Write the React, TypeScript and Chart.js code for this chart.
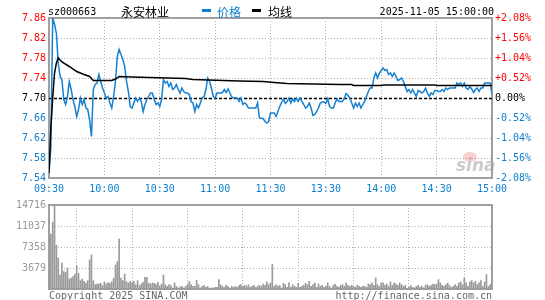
import React, { useEffect, useRef } from 'react';
import { Chart, registerables } from 'chart.js';

Chart.register(...registerables);

// ---------- data ----------
const stockCode = 'sz000663';
const stockName = '永安林业';
const legendPrice = '价格';
const legendAvg = '均线';
const stampText = '2025-11-05 15:00:00';
const copyrightText = 'Copyright 2025 SINA.COM';
const urlText = 'http://finance.sina.com.cn';

const prevClose = 7.7;
const priceTicks = [7.54, 7.58, 7.62, 7.66, 7.7, 7.74, 7.78, 7.82, 7.86];
const pctTicks = [-2.08, -1.56, -1.04, -0.52, 0, 0.52, 1.04, 1.56, 2.08];
const timeTickMinutes = [0, 30, 60, 90, 120, 150, 180, 210, 240];
const timeLabels = ['09:30', '10:00', '10:30', '11:00', '11:30', '13:30', '14:00', '14:30', '15:00'];
const volTicks = [3679, 7358, 11037, 14716];

// minute prices 09:30 - 11:30
const priceAM = [
  7.55, 7.6, 7.86, 7.847, 7.83, 7.77, 7.743, 7.737, 7.697, 7.687,
  7.703, 7.733, 7.717, 7.697, 7.683, 7.663, 7.677, 7.7, 7.687, 7.697,
  7.68, 7.677, 7.657, 7.623, 7.717, 7.727, 7.73, 7.747, 7.733, 7.72,
  7.71, 7.7, 7.703, 7.69, 7.68, 7.703, 7.733, 7.783, 7.797, 7.787,
  7.777, 7.763, 7.733, 7.713, 7.683, 7.68, 7.69, 7.7, 7.693, 7.7,
  7.693, 7.673, 7.687, 7.697, 7.703, 7.71, 7.71, 7.697, 7.687, 7.69,
  7.683, 7.697, 7.737, 7.73, 7.733, 7.723, 7.73, 7.717, 7.72, 7.727,
  7.717, 7.71, 7.72, 7.713, 7.71, 7.71, 7.707, 7.693, 7.69, 7.673,
  7.687, 7.68, 7.69, 7.7, 7.703, 7.717, 7.74, 7.733, 7.72, 7.703,
  7.7, 7.71, 7.71, 7.71, 7.711, 7.717, 7.711, 7.718, 7.71, 7.702,
  7.7, 7.7, 7.7, 7.693, 7.7, 7.687, 7.69, 7.687, 7.68, 7.68,
  7.68, 7.68, 7.68, 7.69, 7.66, 7.659, 7.659, 7.653, 7.65, 7.653,
  7.67,
];
// minute prices 13:01 - 15:00
const pricePM = [
  7.67, 7.67, 7.663, 7.673, 7.683, 7.691, 7.698, 7.689, 7.693, 7.7,
  7.69, 7.698, 7.693, 7.7, 7.693, 7.7, 7.693, 7.687, 7.68, 7.683,
  7.69, 7.68, 7.665, 7.667, 7.673, 7.68, 7.69, 7.692, 7.692, 7.689,
  7.699, 7.683, 7.68, 7.68, 7.69, 7.698, 7.693, 7.693, 7.693, 7.7,
  7.709, 7.705, 7.7, 7.69, 7.68, 7.69, 7.683, 7.69, 7.68, 7.687,
  7.693, 7.703, 7.713, 7.72, 7.72, 7.74, 7.75, 7.74, 7.75, 7.755,
  7.76, 7.755, 7.757, 7.747, 7.75, 7.743, 7.75, 7.743, 7.735, 7.737,
  7.74, 7.733, 7.723, 7.713, 7.717, 7.71, 7.717, 7.709, 7.703, 7.715,
  7.713, 7.71, 7.713, 7.72, 7.71, 7.703, 7.71, 7.707, 7.715, 7.715,
  7.713, 7.713, 7.717, 7.713, 7.72, 7.717, 7.72, 7.72, 7.72, 7.72,
  7.73, 7.727, 7.73, 7.723, 7.73, 7.72, 7.717, 7.723, 7.718, 7.711,
  7.717, 7.72, 7.713, 7.72, 7.72, 7.73, 7.73, 7.73, 7.73, 7.707,
];

// average price line (minute, value)
const avgMinutes = [0, 1, 2, 3, 4, 5, 7, 11, 15, 19, 22, 24, 34, 36, 38, 45, 74, 78, 103, 116, 122, 129, 143, 158, 164, 165, 180, 181, 209, 210, 240];
const avgValues = [7.55, 7.64, 7.7, 7.75, 7.77, 7.78, 7.772, 7.763, 7.753, 7.747, 7.743, 7.735, 7.735, 7.738, 7.743, 7.742, 7.739, 7.737, 7.734, 7.733, 7.731, 7.729, 7.728, 7.727, 7.727, 7.725, 7.725, 7.726, 7.726, 7.725, 7.725];

// minute volumes
const volAM = [
  3330, 9640, 11680, 14716, 7700, 5430, 2450, 4550, 3040, 2920,
  3680, 1750, 1930, 2160, 2570, 4030, 2740, 1460, 1750, 1340,
  1050, 1460, 5080, 5960, 1460, 760, 880, 880, 990, 580,
  1230, 880, 1110, 990, 1280, 1870, 4200, 4790, 8760, 1930,
  1460, 2630, 1280, 1050, 1340, 1110, 1340, 760, 1460, 580,
  880, 1170, 2040, 2040, 990, 880, 1050, 990, 760, 1170,
  530, 880, 2450, 760, 470, 760, 590, 180, 1060, 470,
  180, 350, 470, 180, 470, 760, 1350, 760, 470, 470,
  1530, 760, 180, 470, 590, 290, 470, 100, 180, 180,
  290, 290, 1650, 760, 470, 290, 650, 470, 180, 470,
  290, 470, 290, 650, 760, 470, 650, 470, 760, 290,
  470, 650, 290, 470, 650, 470, 880, 650, 1240, 760,
  1060,
];
const volPM = [
  4300, 470, 760, 470, 650, 180, 1000, 760, 290, 1060,
  290, 760, 470, 290, 1000, 290, 470, 650, 1000, 760,
  1350, 470, 760, 1060, 290, 880, 470, 650, 290, 470,
  1060, 470, 180, 650, 880, 470, 290, 650, 760, 470,
  1060, 650, 470, 650, 470, 290, 650, 470, 290, 470,
  470, 290, 880, 760, 1060, 650, 1940, 760, 470, 1060,
  1060, 650, 880, 470, 1240, 650, 1060, 880, 650, 1060,
  760, 470, 650, 100, 290, 650, 290, 180, 470, 650,
  290, 470, 180, 650, 760, 470, 650, 880, 760, 880,
  1650, 1060, 650, 470, 760, 1060, 650, 290, 470, 760,
  470, 1060, 1240, 760, 1940, 1060, 470, 1240, 1470, 1060,
  1350, 760, 1060, 1470, 470, 1240, 2530, 470, 760, 1650,
];

// ---------- styles ----------
const RED = '#ff0000';
const BLUE = '#0a7fcf';
const LINE_BLUE = '#1580d0';
const GRID = '#b0b0b0';
const FRAME = '#a0a0a0';
const MONO = "'DejaVu Sans Mono', 'Liberation Mono', monospace";
const CJK = "'Noto Sans CJK SC', sans-serif";
const tickFont = { family: MONO, size: 10 };

const W = 545;
const H1 = 196;
const H2 = 104;

function priceColor(v: number) {
  if (Math.abs(v - prevClose) < 1e-6) return '#000';
  return v > prevClose ? RED : BLUE;
}
function pctColor(v: number) {
  if (Math.abs(v) < 1e-6) return '#000';
  return v > 0 ? RED : BLUE;
}

const framePlugin = {
  id: 'frame',
  beforeDatasetsDraw(chart: any) {
    const { ctx, chartArea: a } = chart;
    ctx.save();
    ctx.strokeStyle = FRAME;
    ctx.lineWidth = 2;
    ctx.strokeRect(a.left, a.top, a.right - a.left, a.bottom - a.top);
    ctx.restore();
  },
};

const priceExtras = {
  id: 'priceExtras',
  beforeDatasetsDraw(chart: any) {
    const { ctx, chartArea: a, scales } = chart;
    const y = Math.round(scales.y.getPixelForValue(prevClose)) + 0.5;
    ctx.save();
    // sina watermark
    ctx.fillStyle = 'rgba(235,120,120,0.35)';
    ctx.beginPath();
    ctx.ellipse(470, 157, 7, 5, 0, 0, Math.PI * 2);
    ctx.fill();
    ctx.fillStyle = 'rgba(160,160,160,0.55)';
    ctx.font = "italic bold 17px 'DejaVu Sans', sans-serif";
    ctx.textAlign = 'left';
    ctx.textBaseline = 'alphabetic';
    ctx.fillText('sina', 456, 171);
    // prev close dashed line
    ctx.strokeStyle = '#000';
    ctx.lineWidth = 1.3;
    ctx.setLineDash([3, 2]);
    ctx.beginPath();
    ctx.moveTo(a.left, y);
    ctx.lineTo(a.right, y);
    ctx.stroke();
    ctx.restore();
  },
  afterDraw(chart: any) {
    const { ctx } = chart;
    ctx.save();
    ctx.textBaseline = 'middle';
    ctx.textAlign = 'left';
    ctx.fillStyle = '#000';
    ctx.font = `10px ${MONO}`;
    ctx.fillText(stockCode, 48, 12);
    ctx.font = `12px ${CJK}`;
    ctx.fillText(stockName, 121, 12);
    ctx.fillStyle = BLUE;
    ctx.fillRect(202, 9, 9, 3);
    ctx.fillText(legendPrice, 217, 12);
    ctx.fillStyle = '#000';
    ctx.fillRect(252, 9, 9, 3);
    ctx.fillText(legendAvg, 268, 12);
    ctx.font = `10px ${MONO}`;
    ctx.textAlign = 'right';
    ctx.fillText(stampText, 494, 12);
    ctx.restore();
  },
};

const volExtras = {
  id: 'volExtras',
  afterDraw(chart: any) {
    const { ctx } = chart;
    ctx.save();
    ctx.font = `10px ${MONO}`;
    ctx.fillStyle = '#666';
    ctx.textBaseline = 'middle';
    ctx.textAlign = 'left';
    ctx.fillText(copyrightText, 49, 100.5);
    ctx.textAlign = 'right';
    ctx.fillText(urlText, 492, 100.5);
    ctx.restore();
  },
};

export default function App() {
  const priceRef = useRef<HTMLCanvasElement>(null);
  const volRef = useRef<HTMLCanvasElement>(null);

  useEffect(() => {
    const prices = [...priceAM, ...pricePM];
    const vols = [...volAM, ...volPM];

    const xGrid = {
      type: 'linear' as const,
      min: 0,
      max: 240,
      offset: false,
      afterBuildTicks: (s: any) => {
        s.ticks = timeTickMinutes.map((v) => ({ value: v }));
      },
      grid: { color: GRID, lineWidth: 1, drawTicks: false },
      border: { display: false, dash: [1, 2] },
    };

    const priceChart = new Chart(priceRef.current!, {
      type: 'line',
      data: {
        datasets: [
          {
            label: legendAvg,
            data: avgMinutes.map((m, i) => ({ x: m, y: avgValues[i] })),
            borderColor: '#000',
            borderWidth: 1.5,
            pointRadius: 0,
            tension: 0,
            order: 0,
          },
          {
            label: legendPrice,
            data: prices.map((p, i) => ({ x: i, y: p })),
            borderColor: LINE_BLUE,
            borderWidth: 1.5,
            pointRadius: 0,
            tension: 0,
            order: 1,
          },
        ],
      },
      options: {
        animation: false,
        responsive: false,
        devicePixelRatio: 1,
        layout: { padding: { top: 18, left: 0, right: 0, bottom: 0 } },
        plugins: { legend: { display: false }, tooltip: { enabled: false } },
        scales: {
          x: {
            ...xGrid,
            ticks: {
              autoSkip: false,
              maxRotation: 0,
              padding: 5,
              color: BLUE,
              font: tickFont,
              callback: (v: any) => {
                const k = timeTickMinutes.indexOf(Number(v));
                return k >= 0 ? timeLabels[k] : '';
              },
            },
            afterFit: (s: any) => {
              s.height = 18;
            },
          },
          y: {
            type: 'linear',
            position: 'left',
            min: priceTicks[0],
            max: priceTicks[priceTicks.length - 1],
            afterBuildTicks: (s: any) => {
              s.ticks = priceTicks.map((v) => ({ value: v }));
            },
            grid: { color: GRID, lineWidth: 1, drawTicks: false },
            border: { display: false, dash: [1, 2] },
            ticks: {
              padding: 3,
              font: tickFont,
              color: (c: any) => priceColor(c.tick.value),
              callback: (v: any) => Number(v).toFixed(2),
            },
            afterFit: (s: any) => {
              s.width = 49;
            },
          },
          y1: {
            type: 'linear',
            position: 'right',
            min: pctTicks[0],
            max: pctTicks[pctTicks.length - 1],
            afterBuildTicks: (s: any) => {
              s.ticks = pctTicks.map((v) => ({ value: v }));
            },
            grid: { display: false, drawTicks: false },
            border: { display: false },
            ticks: {
              padding: 3,
              font: tickFont,
              color: (c: any) => pctColor(c.tick.value),
              callback: (v: any) => {
                const n = Number(v);
                if (Math.abs(n) < 1e-6) return '0.00%';
                return (n > 0 ? '+' : '') + n.toFixed(2) + '%';
              },
            },
            afterFit: (s: any) => {
              s.width = 53;
            },
          },
        },
      },
      plugins: [framePlugin, priceExtras],
    });

    const volChart = new Chart(volRef.current!, {
      type: 'bar',
      data: {
        datasets: [
          {
            data: vols.map((v, i) => ({ x: i, y: v })),
            backgroundColor: '#999999',
            borderWidth: 0,
            barThickness: 1,
          },
        ],
      },
      options: {
        animation: false,
        responsive: false,
        devicePixelRatio: 1,
        layout: { padding: { top: 6, left: 0, right: 53, bottom: 0 } },
        plugins: { legend: { display: false }, tooltip: { enabled: false } },
        scales: {
          x: {
            ...xGrid,
            ticks: { display: false },
            afterFit: (s: any) => {
              s.height = 11;
            },
          },
          y: {
            type: 'linear',
            position: 'left',
            min: 0,
            max: volTicks[volTicks.length - 1],
            afterBuildTicks: (s: any) => {
              s.ticks = [0, ...volTicks].map((v) => ({ value: v }));
            },
            grid: { color: GRID, lineWidth: 1, drawTicks: false },
            border: { display: false, dash: [1, 2] },
            ticks: {
              padding: 3,
              font: tickFont,
              color: '#999999',
              callback: (v: any) => (Number(v) === 0 ? '' : String(v)),
            },
            afterFit: (s: any) => {
              s.width = 49;
            },
          },
        },
      },
      plugins: [framePlugin, volExtras],
    });

    return () => {
      priceChart.destroy();
      volChart.destroy();
    };
  }, []);

  return (
    <div style={{ position: 'fixed', left: 0, top: 0, width: W, height: H1 + H2, background: '#fff' }}>
      <canvas
        ref={priceRef}
        width={W}
        height={H1}
        style={{ position: 'absolute', left: 0, top: 0, width: W, height: H1 }}
      />
      <canvas
        ref={volRef}
        width={W}
        height={H2}
        style={{ position: 'absolute', left: 0, top: H1, width: W, height: H2 }}
      />
    </div>
  );
}
